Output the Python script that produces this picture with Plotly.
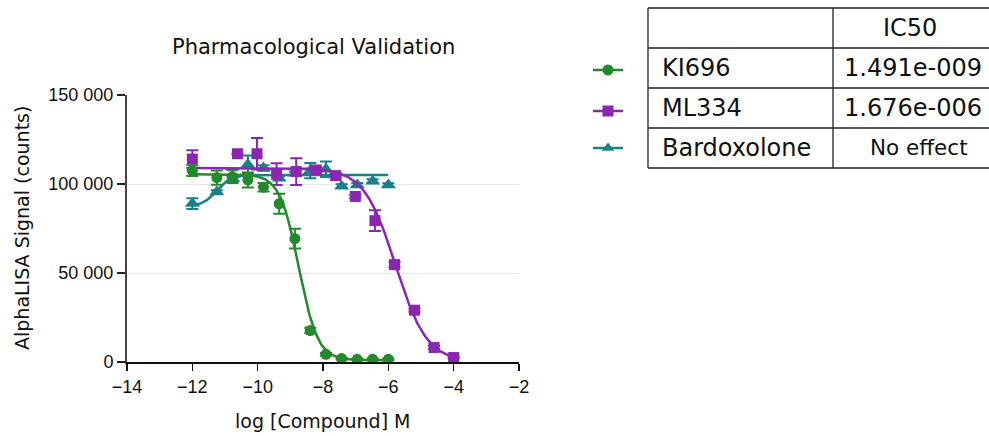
import numpy as np
import plotly.graph_objects as go

W, H = 989, 436

# ---------------- data ----------------
x_ki = [-12, -11.25, -10.77, -10.3, -9.82, -9.34, -8.86, -8.39, -7.91, -7.43, -6.95, -6.48, -6.0]
y_ki = [107500, 103600, 104200, 102300, 98200, 88900, 69300, 17700, 4300, 1900, 1500, 1500, 1500]
e_ki = [3000, 4000, 3700, 4200, 2400, 5600, 5600, 1500, 800, 500, 500, 500, 500]

x_ml = [-12, -10.62, -10.02, -9.42, -8.82, -8.21, -7.61, -7.01, -6.41, -5.81, -5.2, -4.6, -4.0]
y_ml = [114000, 117000, 117000, 105500, 107000, 107900, 104700, 93000, 79400, 54700, 29100, 8100, 2500]
e_ml = [5000, 0, 8800, 6100, 7500, 1500, 1000, 1000, 5800, 1500, 1000, 1000, 500]

x_bx = [-12, -11.25, -10.77, -10.3, -9.82, -9.34, -8.86, -8.39, -7.91, -7.43, -6.95, -6.48, -6.0]
y_bx = [89000, 95500, 103000, 111000, 109000, 103300, 106000, 107500, 108300, 98800, 99500, 101600, 99400]
e_bx = [3000, 1000, 1000, 5000, 1500, 1000, 1000, 4300, 4300, 1000, 1000, 1000, 1000]

# fitted 4PL parameters (bottom, top, logIC50, hill, x-range)
fit_ki = dict(bottom=1000, top=105500, logx50=-8.74, hill=-1.5, xmin=-12, xmax=-6)
fit_ml = dict(bottom=0, top=109000, logx50=-5.78, hill=-0.9, xmin=-12, xmax=-4)
fit_bx = dict(bottom=87500, top=105000, logx50=-11.25, hill=2.0, xmin=-12, xmax=-6)

names = ["KI696", "ML334", "Bardoxolone"]
ic50_text = ["1.491e-009", "1.676e-006", "No effect"]
x_ticks = [-14, -12, -10, -8, -6, -4, -2]
y_ticks = [0, 50000, 100000, 150000]
y_ticktext = ["0", "50 000", "100 000", "150 000"]

GREEN = "#228a2a"
PURPLE = "#8a26b2"
TEAL = "#1b7f88"


def four_pl(p):
    xs = np.linspace(p["xmin"], p["xmax"], 300)
    ys = p["bottom"] + (p["top"] - p["bottom"]) / (1 + 10 ** ((p["logx50"] - xs) * p["hill"]))
    return xs, ys


def px(x):
    return x / W


def py(y):
    return 1 - y / H


fig = go.Figure()

series = [
    (x_bx, y_bx, e_bx, fit_bx, TEAL, "triangle-up", 13),
    (x_ml, y_ml, e_ml, fit_ml, PURPLE, "square", 11),
    (x_ki, y_ki, e_ki, fit_ki, GREEN, "circle", 11),
]
for xs, ys, es, fit, col, sym, ms in series:
    cx, cy = four_pl(fit)
    fig.add_trace(go.Scatter(x=cx, y=cy, mode="lines", line=dict(color=col, width=2.5),
                             hoverinfo="skip", showlegend=False))
    fig.add_trace(go.Scatter(x=xs, y=ys, mode="markers",
                             marker=dict(color=col, symbol=sym, size=ms, line=dict(width=0)),
                             error_y=dict(type="data", array=es, visible=True, color=col,
                                          thickness=2, width=6),
                             showlegend=False))

# legend symbols, drawn on a pixel-space overlay axis
leg_y = [70, 111, 148]
leg_cols = [GREEN, PURPLE, TEAL]
leg_syms = ["circle", "square", "triangle-up"]
for yy, col, sym in zip(leg_y, leg_cols, leg_syms):
    fig.add_trace(go.Scatter(x=[593, 623], y=[yy, yy], mode="lines", line=dict(color=col, width=2.5),
                             xaxis="x2", yaxis="y2", showlegend=False, hoverinfo="skip"))
    fig.add_trace(go.Scatter(x=[608], y=[yy], mode="markers",
                             marker=dict(color=col, symbol=sym, size=11),
                             xaxis="x2", yaxis="y2", showlegend=False, hoverinfo="skip"))

# plot area in pixels
L, R, T, B = 127, 519, 95, 362

shapes = []
# table
tx0, tx1, tx2 = 648, 833, 993
rows = [8, 48, 88, 128, 168]
for r in rows:
    shapes.append(dict(type="line", xref="paper", yref="paper", x0=px(tx0), x1=px(tx2),
                       y0=py(r), y1=py(r), line=dict(color="#222", width=1.3)))
for c in [tx0, tx1, tx2]:
    shapes.append(dict(type="line", xref="paper", yref="paper", x0=px(c), x1=px(c),
                       y0=py(rows[0]), y1=py(rows[-1]), line=dict(color="#222", width=1.3)))

TFONT = "'DejaVu Sans', sans-serif"
annotations = []
annotations.append(dict(text="IC50", x=px(910), y=py(28), xref="paper", yref="paper",
                        showarrow=False, xanchor="center", yanchor="middle",
                        font=dict(family=TFONT, size=24, color="#111")))
for i, (nm, val) in enumerate(zip(names, ic50_text)):
    yc = (rows[i + 1] + rows[i + 2]) / 2
    annotations.append(dict(text=nm, x=px(660), y=py(yc), xref="paper", yref="paper",
                            showarrow=False, xanchor="left", yanchor="middle",
                            font=dict(family=TFONT, size=24, color="#111")))
    annotations.append(dict(text=val, x=px(913 if i < 2 else 919), y=py(yc), xref="paper", yref="paper",
                            showarrow=False, xanchor="center", yanchor="middle",
                            font=dict(family=TFONT, size=24 if i < 2 else 21.5, color="#111")))

# titles
annotations.append(dict(text="Pharmacological Validation", x=px(313), y=py(47), xref="paper", yref="paper",
                        showarrow=False, xanchor="center", yanchor="middle",
                        font=dict(family=TFONT, size=21, color="#111")))
annotations.append(dict(text="log [Compound] M", x=px(323), y=py(421), xref="paper", yref="paper",
                        showarrow=False, xanchor="center", yanchor="middle",
                        font=dict(family=TFONT, size=19, color="#111")))
annotations.append(dict(text="AlphaLISA Signal (counts)", x=px(22), y=py(228), xref="paper", yref="paper",
                        showarrow=False, xanchor="center", yanchor="middle", textangle=-90,
                        font=dict(family=TFONT, size=19, color="#111")))

TICKFONT = dict(family="'Liberation Sans', Arial, sans-serif", size=18, color="#111")

fig.update_layout(
    width=W, height=H, autosize=False,
    margin=dict(l=0, r=0, t=0, b=0, pad=0),
    paper_bgcolor="white", plot_bgcolor="rgba(0,0,0,0)",
    showlegend=False,
    shapes=shapes, annotations=annotations,
    xaxis=dict(domain=[px(L), px(R)], range=[-14, -2], tickvals=x_ticks,
               ticks="outside", ticklen=7, tickwidth=1.5, tickcolor="#111",
               showline=True, linecolor="#111", linewidth=2, showgrid=False, zeroline=False,
               tickfont=TICKFONT, anchor="y", fixedrange=True, automargin=False),
    yaxis=dict(domain=[py(B), py(T)], range=[0, 150000], tickvals=y_ticks, ticktext=y_ticktext,
               ticks="outside", ticklen=8, tickwidth=1.5, tickcolor="#222",
               showline=True, linecolor="#444", linewidth=2, showgrid=True,
               gridcolor="#e8e8e8", gridwidth=1, zeroline=False,
               tickfont=TICKFONT, anchor="x", fixedrange=True, automargin=False),
    xaxis2=dict(domain=[0, 1], range=[0, W], visible=False, anchor="y2", fixedrange=True,
                automargin=False),
    yaxis2=dict(domain=[0, 1], range=[H, 0], visible=False, anchor="x2", fixedrange=True,
                automargin=False),
)

fig.write_html("out.html", config={"displayModeBar": False, "staticPlot": True},
               post_script="document.body.style.margin='0';document.body.style.padding='0';"
                           "document.body.style.overflow='hidden';")
